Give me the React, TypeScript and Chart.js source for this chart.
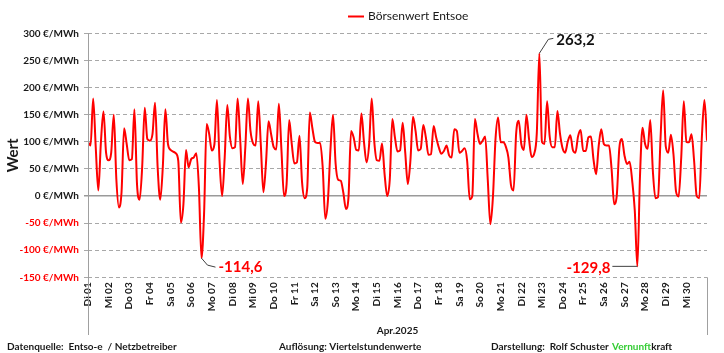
import React, { useEffect, useRef } from 'react';
import { Chart, registerables } from 'chart.js';

Chart.register(...registerables);

// ---- Data (3-hourly samples: 0,3,6,9,12,15,18,21 h) ----
const dayLabels = [
  'Di 01', 'Mi 02', 'Do 03', 'Fr 04', 'Sa 05', 'So 06', 'Mo 07', 'Di 08', 'Mi 09', 'Do 10',
  'Fr 11', 'Sa 12', 'So 13', 'Mo 14', 'Di 15', 'Mi 16', 'Do 17', 'Fr 18', 'Sa 19', 'So 20',
  'Mo 21', 'Di 22', 'Mi 23', 'Do 24', 'Fr 25', 'Sa 26', 'So 27', 'Mo 28', 'Di 29', 'Mi 30',
];

const prices01to07 = [
  100, 93, 180, 90, 10, 99, 156, 80,
  66, 80, 150, 30, -21, 7, 125, 96,
  66, 68, 160, 22, -7, 53, 163, 105,
  102, 114, 172, 53, -7, 53, 160, 96,
  85, 82, 79, 65, -49, -15, 85, 53,
  68, 71, 79, 16, -114.6, -33, 133, 114,
  84, 95, 177, 65, 0, 71, 168, 110,
];
const prices08to14 = [
  88, 90, 180, 105, 22, 90, 180, 120,
  97, 93, 175, 95, 7, 60, 138, 114,
  90, 86, 170, 85, 0, 22, 140, 96,
  60, 62, 111, 25, -4, 15, 154, 125,
  100, 98, 98, 53, -42, -10, 85, 150,
  60, 30, 28, 6, -24, -2, 120, 108,
  85, 84, 152, 100, 62, 95, 180, 100,
];
const prices15to21 = [
  66, 65, 97, 40, 0, 30, 142, 108,
  82, 84, 135, 80, 22, 65, 146, 120,
  84, 87, 131, 108, 76, 77, 129, 108,
  90, 78, 83, 93, 75, 71, 123, 120,
  80, 83, 88, 65, -6, 0, 142, 115,
  96, 102, 110, 30, -52, -2, 105, 145,
  99, 99, 91, 71, 20, 10, 115, 139,
];
const prices22to28 = [
  96, 85, 150, 105, 72, 78, 115, 263.2,
  100, 96, 175, 110, 90, 90, 157, 115,
  88, 80, 100, 112, 85, 80, 110, 122,
  83, 83, 108, 110, 67, 40, 92, 123,
  96, 93, 93, 50, -15, 0, 88, 105,
  75, 59, 63, 28, -27, -129.8, 34, 126,
  96, 87, 140, 47, -4, -2, 108, 195,
];
const prices29to30 = [
  92, 80, 113, 77, 8, -1, 70, 175,
  100, 99, 114, 65, 0, -4, 108, 177,
  102,
];

const samplesPerDay = 8;
const yMin = -150;
const yMax = 300;
const yStep = 50;
const unit = '€/MWh';
const seriesName = 'Börsenwert Entsoe';
const xTitle = 'Apr.2025';
const yTitle = 'Wert';
const annotatedValues = [263.2, -114.6, -129.8];
const footerTexts = ['Datenquelle:  Entso-e  / Netzbetreiber', 'Auflösung: Viertelstundenwerte', 'Darstellung:  Rolf Schuster'];
const brandParts = ['Vernunft', 'kraft'];

const allPrices = [...prices01to07, ...prices08to14, ...prices15to21, ...prices22to28, ...prices29to30];

const FONT = 'Lato, "Open Sans", sans-serif';
const RED = '#ff0000';
const DARK = '#1a1a1a';

const fmt = (v: number) => v.toFixed(1).replace('.', ',');

const decorPlugin = {
  id: 'decor',
  afterDraw(chart: any) {
    const ctx: CanvasRenderingContext2D = chart.ctx;
    const { left, right, top, bottom } = chart.chartArea;
    const xs = chart.scales.x;
    const ys = chart.scales.y;
    ctx.save();

    // axis frame lines
    ctx.strokeStyle = '#a0a0a0';
    ctx.lineWidth = 1;
    ctx.beginPath();
    const lx = Math.round(left - 0.5) + 0.5;
    const rx = Math.round(right - 0.5) + 0.5;
    ctx.moveTo(lx, top);
    ctx.lineTo(lx, 335);
    ctx.moveTo(rx, bottom);
    ctx.lineTo(rx, 335);
    ctx.stroke();

    // legend
    ctx.strokeStyle = RED;
    ctx.lineWidth = 2;
    ctx.beginPath();
    ctx.moveTo(348, 16.5);
    ctx.lineTo(364, 16.5);
    ctx.stroke();
    ctx.fillStyle = DARK;
    ctx.font = `12px ${FONT}`;
    ctx.textBaseline = 'middle';
    ctx.textAlign = 'left';
    ctx.fillText(seriesName, 368, 16.5);

    // annotations
    ctx.font = `bold 15px ${FONT}`;
    annotatedValues.forEach((val, k) => {
      const idx = allPrices.indexOf(val);
      if (idx < 0) return;
      const px = xs.getPixelForValue(idx / samplesPerDay);
      const py = ys.getPixelForValue(val);
      ctx.strokeStyle = '#404040';
      ctx.lineWidth = 1;
      ctx.beginPath();
      if (k === 0) {
        ctx.moveTo(px, py);
        ctx.lineTo(px + 9, py - 14);
        ctx.lineTo(px + 14, py - 15);
        ctx.stroke();
        ctx.fillStyle = '#111';
        ctx.textAlign = 'left';
        ctx.fillText(fmt(val), px + 17, py - 13);
      } else if (k === 1) {
        ctx.moveTo(px, py);
        ctx.lineTo(px + 6, py + 7);
        ctx.lineTo(px + 14, py + 9);
        ctx.stroke();
        ctx.fillStyle = RED;
        ctx.textAlign = 'left';
        ctx.fillText(fmt(val), px + 17, py + 9);
      } else {
        ctx.moveTo(px, py);
        ctx.lineTo(px - 25, py);
        ctx.stroke();
        ctx.fillStyle = RED;
        ctx.textAlign = 'right';
        ctx.fillText(fmt(val), px - 27, py + 1.5);
      }
    });

    // footer
    ctx.font = `bold 10px ${FONT}`;
    ctx.textAlign = 'left';
    ctx.fillStyle = DARK;
    const fy = 347;
    ctx.fillText(footerTexts[0], 7, fy);
    ctx.fillText(footerTexts[1], 279, fy);
    ctx.fillText(footerTexts[2], 491, fy);
    ctx.fillStyle = '#33cc33';
    ctx.fillText(brandParts[0], 612, fy);
    const w = ctx.measureText(brandParts[0]).width;
    ctx.fillStyle = DARK;
    ctx.fillText(brandParts[1], 612 + w, fy);

    ctx.restore();
  },
};

export default function App() {
  const canvasRef = useRef<HTMLCanvasElement | null>(null);

  useEffect(() => {
    if (!canvasRef.current) return;
    const chart = new Chart(canvasRef.current, {
      type: 'line',
      data: {
        datasets: [
          {
            label: seriesName,
            data: allPrices.map((v, i) => ({ x: i / samplesPerDay, y: v })),
            borderColor: RED,
            backgroundColor: RED,
            borderWidth: 2,
            pointRadius: 0,
            cubicInterpolationMode: 'monotone',
            fill: false,
          },
        ],
      },
      options: {
        animation: false,
        responsive: false,
        maintainAspectRatio: false,
        layout: { padding: { top: 33.4, right: 14, bottom: 16, left: 0 } },
        plugins: {
          legend: { display: false },
          tooltip: { enabled: false },
        },
        scales: {
          x: {
            type: 'linear',
            min: 0,
            max: dayLabels.length,
            afterFit: (scale: any) => {
              scale.height = 59.7;
            },
            grid: { display: false, drawTicks: false },
            border: { display: false },
            ticks: {
              stepSize: 1,
              autoSkip: false,
              maxRotation: 90,
              minRotation: 90,
              padding: 5,
              color: DARK,
              font: { family: FONT, size: 10, weight: 'bold' },
              callback: (value: any) => dayLabels[Number(value)] ?? '',
            },
            title: {
              display: true,
              text: xTitle,
              color: DARK,
              font: { family: FONT, size: 10, weight: 'bold' },
              padding: { top: 0, bottom: 0 },
            },
          },
          y: {
            min: yMin,
            max: yMax,
            afterFit: (scale: any) => {
              scale.width = 88;
            },
            grid: {
              color: (c: any) => (c.tick && c.tick.value === 0 ? '#9a9a9a' : '#a8a8a8'),
              lineWidth: (c: any) => (c.tick && c.tick.value === 0 ? 1.5 : 1),
              drawTicks: true,
              tickLength: 4,
            },
            border: {
              display: false,
              dash: (c: any) => (c.tick && c.tick.value === 0 ? [] : [4, 3]),
            },
            ticks: {
              stepSize: yStep,
              padding: 5,
              color: (c: any) => (c.tick && c.tick.value < 0 ? RED : DARK),
              font: { family: FONT, size: 10, weight: 'bold' },
              callback: (value: any) => `${value} ${unit}`,
            },
            title: {
              display: true,
              text: yTitle,
              color: DARK,
              font: { family: FONT, size: 15, weight: 'bold' },
              padding: { top: 4, bottom: 0 },
            },
          },
        },
      } as any,
      plugins: [decorPlugin],
    });
    return () => chart.destroy();
  }, []);

  return (
    <div style={{ position: 'absolute', left: 0, top: 0, width: 724, height: 353, background: '#fff' }}>
      <canvas ref={canvasRef} width={724} height={353} style={{ width: 724, height: 353, display: 'block' }} />
    </div>
  );
}
